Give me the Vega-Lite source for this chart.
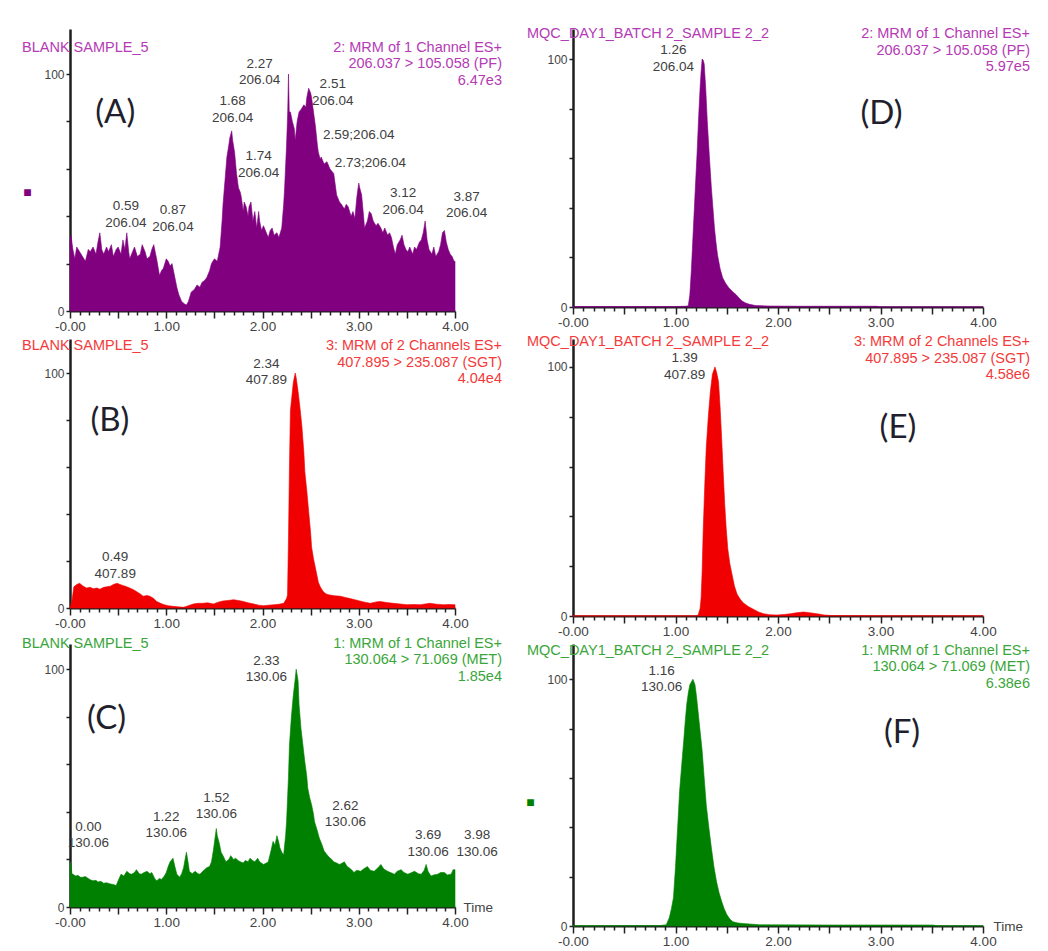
{
  "$schema": "https://vega.github.io/schema/vega-lite/v6.json",
  "background": "white",
  "padding": {"left": 22, "top": 26, "right": 5, "bottom": 5},
  "columns": 2,
  "spacing": {"row": 28, "column": 118},
  "bounds": "flush",
  "align": "each",
  "datasets": {
    "trace": [
      {"p":"A","t":0,"v":30},{"p":"A","t":0.01,"v":32},{"p":"A","t":0.03,"v":26},{"p":"A","t":0.05,"v":22},{"p":"A","t":0.07,"v":27},{"p":"A","t":0.1,"v":25},{"p":"A","t":0.13,"v":23},{"p":"A","t":0.16,"v":21},{"p":"A","t":0.19,"v":26},{"p":"A","t":0.21,"v":25},{"p":"A","t":0.24,"v":27},{"p":"A","t":0.27,"v":24},{"p":"A","t":0.29,"v":29},{"p":"A","t":0.31,"v":33},{"p":"A","t":0.33,"v":26},{"p":"A","t":0.35,"v":24},{"p":"A","t":0.38,"v":27},{"p":"A","t":0.4,"v":25},{"p":"A","t":0.43,"v":28},{"p":"A","t":0.45,"v":23},{"p":"A","t":0.48,"v":26},{"p":"A","t":0.5,"v":27},{"p":"A","t":0.53,"v":24},{"p":"A","t":0.55,"v":30},{"p":"A","t":0.57,"v":26},{"p":"A","t":0.59,"v":33},{"p":"A","t":0.61,"v":25},{"p":"A","t":0.62,"v":22},{"p":"A","t":0.65,"v":25},{"p":"A","t":0.67,"v":27},{"p":"A","t":0.7,"v":23},{"p":"A","t":0.73,"v":24},{"p":"A","t":0.75,"v":28},{"p":"A","t":0.78,"v":25},{"p":"A","t":0.8,"v":22},{"p":"A","t":0.83,"v":23},{"p":"A","t":0.85,"v":26},{"p":"A","t":0.87,"v":28},{"p":"A","t":0.89,"v":24},{"p":"A","t":0.9,"v":22},{"p":"A","t":0.93,"v":15},{"p":"A","t":0.95,"v":17},{"p":"A","t":0.97,"v":18},{"p":"A","t":1.0,"v":22},{"p":"A","t":1.02,"v":21},{"p":"A","t":1.04,"v":19},{"p":"A","t":1.06,"v":20},{"p":"A","t":1.09,"v":14},{"p":"A","t":1.11,"v":10},{"p":"A","t":1.13,"v":7},{"p":"A","t":1.16,"v":4},{"p":"A","t":1.19,"v":3},{"p":"A","t":1.21,"v":2.5},{"p":"A","t":1.23,"v":4},{"p":"A","t":1.26,"v":8},{"p":"A","t":1.29,"v":9},{"p":"A","t":1.32,"v":11},{"p":"A","t":1.35,"v":10},{"p":"A","t":1.37,"v":12},{"p":"A","t":1.4,"v":13},{"p":"A","t":1.42,"v":14},{"p":"A","t":1.45,"v":17},{"p":"A","t":1.47,"v":20},{"p":"A","t":1.5,"v":22},{"p":"A","t":1.53,"v":21},{"p":"A","t":1.56,"v":27},{"p":"A","t":1.58,"v":38},{"p":"A","t":1.59,"v":45},{"p":"A","t":1.61,"v":55},{"p":"A","t":1.63,"v":65},{"p":"A","t":1.65,"v":70},{"p":"A","t":1.66,"v":73},{"p":"A","t":1.68,"v":76},{"p":"A","t":1.69,"v":72},{"p":"A","t":1.71,"v":67},{"p":"A","t":1.73,"v":58},{"p":"A","t":1.75,"v":52},{"p":"A","t":1.77,"v":50},{"p":"A","t":1.78,"v":48},{"p":"A","t":1.8,"v":42},{"p":"A","t":1.81,"v":46},{"p":"A","t":1.83,"v":44},{"p":"A","t":1.85,"v":40},{"p":"A","t":1.86,"v":44},{"p":"A","t":1.88,"v":46},{"p":"A","t":1.9,"v":38},{"p":"A","t":1.92,"v":42},{"p":"A","t":1.94,"v":35},{"p":"A","t":1.96,"v":42},{"p":"A","t":1.97,"v":38},{"p":"A","t":1.99,"v":34},{"p":"A","t":2.01,"v":36},{"p":"A","t":2.04,"v":33},{"p":"A","t":2.06,"v":31},{"p":"A","t":2.08,"v":34},{"p":"A","t":2.1,"v":35},{"p":"A","t":2.12,"v":32},{"p":"A","t":2.15,"v":33},{"p":"A","t":2.17,"v":31},{"p":"A","t":2.2,"v":35},{"p":"A","t":2.22,"v":45},{"p":"A","t":2.23,"v":52},{"p":"A","t":2.25,"v":70},{"p":"A","t":2.262,"v":84},{"p":"A","t":2.27,"v":100},{"p":"A","t":2.278,"v":84},{"p":"A","t":2.29,"v":84},{"p":"A","t":2.31,"v":80},{"p":"A","t":2.33,"v":77},{"p":"A","t":2.34,"v":72},{"p":"A","t":2.36,"v":80},{"p":"A","t":2.38,"v":84},{"p":"A","t":2.4,"v":85},{"p":"A","t":2.43,"v":87},{"p":"A","t":2.45,"v":86},{"p":"A","t":2.46,"v":90},{"p":"A","t":2.48,"v":94},{"p":"A","t":2.5,"v":92},{"p":"A","t":2.51,"v":90},{"p":"A","t":2.53,"v":84},{"p":"A","t":2.55,"v":78},{"p":"A","t":2.57,"v":70},{"p":"A","t":2.58,"v":67},{"p":"A","t":2.6,"v":64},{"p":"A","t":2.61,"v":65},{"p":"A","t":2.64,"v":62},{"p":"A","t":2.67,"v":63},{"p":"A","t":2.7,"v":60},{"p":"A","t":2.72,"v":59},{"p":"A","t":2.74,"v":58},{"p":"A","t":2.76,"v":52},{"p":"A","t":2.77,"v":49},{"p":"A","t":2.8,"v":46},{"p":"A","t":2.82,"v":45},{"p":"A","t":2.85,"v":43},{"p":"A","t":2.87,"v":45},{"p":"A","t":2.89,"v":44},{"p":"A","t":2.92,"v":40},{"p":"A","t":2.94,"v":42},{"p":"A","t":2.96,"v":39},{"p":"A","t":2.98,"v":48},{"p":"A","t":3.0,"v":54},{"p":"A","t":3.01,"v":52},{"p":"A","t":3.03,"v":49},{"p":"A","t":3.05,"v":40},{"p":"A","t":3.06,"v":35},{"p":"A","t":3.09,"v":38},{"p":"A","t":3.11,"v":42},{"p":"A","t":3.13,"v":41},{"p":"A","t":3.15,"v":38},{"p":"A","t":3.18,"v":36},{"p":"A","t":3.2,"v":37},{"p":"A","t":3.23,"v":35},{"p":"A","t":3.25,"v":33},{"p":"A","t":3.27,"v":35},{"p":"A","t":3.3,"v":32},{"p":"A","t":3.32,"v":33},{"p":"A","t":3.34,"v":31},{"p":"A","t":3.36,"v":27},{"p":"A","t":3.38,"v":24},{"p":"A","t":3.4,"v":28},{"p":"A","t":3.43,"v":30},{"p":"A","t":3.45,"v":32},{"p":"A","t":3.47,"v":28},{"p":"A","t":3.49,"v":26},{"p":"A","t":3.51,"v":25},{"p":"A","t":3.53,"v":27},{"p":"A","t":3.56,"v":24},{"p":"A","t":3.58,"v":27},{"p":"A","t":3.6,"v":26},{"p":"A","t":3.63,"v":29},{"p":"A","t":3.65,"v":30},{"p":"A","t":3.67,"v":33},{"p":"A","t":3.69,"v":38},{"p":"A","t":3.71,"v":30},{"p":"A","t":3.73,"v":26},{"p":"A","t":3.76,"v":24},{"p":"A","t":3.78,"v":27},{"p":"A","t":3.8,"v":23},{"p":"A","t":3.83,"v":25},{"p":"A","t":3.85,"v":28},{"p":"A","t":3.87,"v":33},{"p":"A","t":3.89,"v":34},{"p":"A","t":3.91,"v":29},{"p":"A","t":3.93,"v":26},{"p":"A","t":3.95,"v":24},{"p":"A","t":3.97,"v":23},{"p":"A","t":3.99,"v":21},{"p":"A","t":4.0,"v":21},

      {"p":"B","t":0,"v":0},{"p":"B","t":0.02,"v":3},{"p":"B","t":0.04,"v":9},{"p":"B","t":0.07,"v":10},{"p":"B","t":0.1,"v":10.5},{"p":"B","t":0.13,"v":9.5},{"p":"B","t":0.17,"v":8.5},{"p":"B","t":0.21,"v":8.8},{"p":"B","t":0.24,"v":8.2},{"p":"B","t":0.28,"v":8.5},{"p":"B","t":0.31,"v":8},{"p":"B","t":0.35,"v":8.8},{"p":"B","t":0.38,"v":9},{"p":"B","t":0.42,"v":9.3},{"p":"B","t":0.45,"v":10},{"p":"B","t":0.49,"v":10.5},{"p":"B","t":0.52,"v":10},{"p":"B","t":0.55,"v":9.6},{"p":"B","t":0.59,"v":9},{"p":"B","t":0.62,"v":8.5},{"p":"B","t":0.66,"v":7.8},{"p":"B","t":0.69,"v":7},{"p":"B","t":0.73,"v":6},{"p":"B","t":0.76,"v":5},{"p":"B","t":0.8,"v":5.3},{"p":"B","t":0.83,"v":5},{"p":"B","t":0.87,"v":4},{"p":"B","t":0.9,"v":2.8},{"p":"B","t":0.94,"v":2},{"p":"B","t":0.97,"v":1.5},{"p":"B","t":1.02,"v":1},{"p":"B","t":1.07,"v":0.7},{"p":"B","t":1.12,"v":0.5},{"p":"B","t":1.18,"v":0.3},{"p":"B","t":1.23,"v":1},{"p":"B","t":1.28,"v":1.7},{"p":"B","t":1.33,"v":2},{"p":"B","t":1.38,"v":2},{"p":"B","t":1.43,"v":2.2},{"p":"B","t":1.49,"v":1.7},{"p":"B","t":1.54,"v":2.5},{"p":"B","t":1.59,"v":3},{"p":"B","t":1.64,"v":3.2},{"p":"B","t":1.7,"v":3.5},{"p":"B","t":1.75,"v":3.2},{"p":"B","t":1.8,"v":2.8},{"p":"B","t":1.85,"v":2.2},{"p":"B","t":1.91,"v":1.7},{"p":"B","t":1.96,"v":1.2},{"p":"B","t":2.01,"v":1},{"p":"B","t":2.06,"v":1.2},{"p":"B","t":2.12,"v":1.4},{"p":"B","t":2.17,"v":1.6},{"p":"B","t":2.22,"v":2},{"p":"B","t":2.25,"v":4},{"p":"B","t":2.26,"v":5.5},{"p":"B","t":2.27,"v":30},{"p":"B","t":2.28,"v":60},{"p":"B","t":2.29,"v":84},{"p":"B","t":2.31,"v":92},{"p":"B","t":2.32,"v":96},{"p":"B","t":2.34,"v":100},{"p":"B","t":2.35,"v":98},{"p":"B","t":2.37,"v":92},{"p":"B","t":2.39,"v":85},{"p":"B","t":2.41,"v":77},{"p":"B","t":2.43,"v":66},{"p":"B","t":2.44,"v":58},{"p":"B","t":2.46,"v":50},{"p":"B","t":2.48,"v":41},{"p":"B","t":2.5,"v":32},{"p":"B","t":2.51,"v":26},{"p":"B","t":2.53,"v":21},{"p":"B","t":2.55,"v":17},{"p":"B","t":2.58,"v":11},{"p":"B","t":2.6,"v":9},{"p":"B","t":2.63,"v":7},{"p":"B","t":2.66,"v":6},{"p":"B","t":2.7,"v":5.5},{"p":"B","t":2.75,"v":5.2},{"p":"B","t":2.81,"v":5},{"p":"B","t":2.86,"v":4.5},{"p":"B","t":2.91,"v":4},{"p":"B","t":2.96,"v":3.5},{"p":"B","t":3.01,"v":3},{"p":"B","t":3.06,"v":2.5},{"p":"B","t":3.12,"v":2},{"p":"B","t":3.17,"v":2.5},{"p":"B","t":3.22,"v":2.8},{"p":"B","t":3.29,"v":2.3},{"p":"B","t":3.36,"v":2},{"p":"B","t":3.43,"v":1.7},{"p":"B","t":3.5,"v":1.4},{"p":"B","t":3.57,"v":1.5},{"p":"B","t":3.64,"v":1.4},{"p":"B","t":3.69,"v":1.7},{"p":"B","t":3.74,"v":2},{"p":"B","t":3.81,"v":1.6},{"p":"B","t":3.88,"v":1.4},{"p":"B","t":3.94,"v":1.5},{"p":"B","t":4.0,"v":1.4},

      {"p":"C","t":0,"v":19},{"p":"C","t":0.01,"v":18},{"p":"C","t":0.02,"v":14},{"p":"C","t":0.03,"v":13.8},{"p":"C","t":0.06,"v":13},{"p":"C","t":0.08,"v":13.3},{"p":"C","t":0.11,"v":12.5},{"p":"C","t":0.13,"v":12.5},{"p":"C","t":0.16,"v":12.8},{"p":"C","t":0.19,"v":12},{"p":"C","t":0.21,"v":11.5},{"p":"C","t":0.24,"v":11},{"p":"C","t":0.27,"v":11.2},{"p":"C","t":0.29,"v":10.5},{"p":"C","t":0.32,"v":10.8},{"p":"C","t":0.35,"v":10},{"p":"C","t":0.38,"v":10.2},{"p":"C","t":0.42,"v":9.7},{"p":"C","t":0.45,"v":9.5},{"p":"C","t":0.48,"v":9},{"p":"C","t":0.5,"v":11},{"p":"C","t":0.53,"v":13.8},{"p":"C","t":0.56,"v":13},{"p":"C","t":0.59,"v":15},{"p":"C","t":0.62,"v":14},{"p":"C","t":0.64,"v":13.8},{"p":"C","t":0.67,"v":14.5},{"p":"C","t":0.69,"v":15.7},{"p":"C","t":0.72,"v":14},{"p":"C","t":0.74,"v":13.8},{"p":"C","t":0.77,"v":14.5},{"p":"C","t":0.8,"v":15},{"p":"C","t":0.83,"v":14},{"p":"C","t":0.85,"v":14.5},{"p":"C","t":0.88,"v":12},{"p":"C","t":0.9,"v":11},{"p":"C","t":0.93,"v":12},{"p":"C","t":0.95,"v":11.6},{"p":"C","t":0.98,"v":13},{"p":"C","t":1.0,"v":14.5},{"p":"C","t":1.02,"v":17},{"p":"C","t":1.04,"v":19},{"p":"C","t":1.07,"v":20.5},{"p":"C","t":1.09,"v":17},{"p":"C","t":1.11,"v":13.8},{"p":"C","t":1.14,"v":12.5},{"p":"C","t":1.16,"v":14},{"p":"C","t":1.18,"v":16.5},{"p":"C","t":1.2,"v":21},{"p":"C","t":1.21,"v":23},{"p":"C","t":1.23,"v":18},{"p":"C","t":1.24,"v":15},{"p":"C","t":1.27,"v":14},{"p":"C","t":1.3,"v":15},{"p":"C","t":1.33,"v":14},{"p":"C","t":1.35,"v":13.8},{"p":"C","t":1.38,"v":15},{"p":"C","t":1.42,"v":16.5},{"p":"C","t":1.45,"v":17},{"p":"C","t":1.47,"v":19},{"p":"C","t":1.49,"v":24},{"p":"C","t":1.5,"v":27},{"p":"C","t":1.52,"v":33},{"p":"C","t":1.53,"v":30},{"p":"C","t":1.55,"v":27},{"p":"C","t":1.57,"v":23},{"p":"C","t":1.59,"v":21.6},{"p":"C","t":1.62,"v":19},{"p":"C","t":1.65,"v":20},{"p":"C","t":1.67,"v":21.6},{"p":"C","t":1.7,"v":20},{"p":"C","t":1.72,"v":20.5},{"p":"C","t":1.75,"v":19.5},{"p":"C","t":1.77,"v":19},{"p":"C","t":1.8,"v":18.5},{"p":"C","t":1.82,"v":19.6},{"p":"C","t":1.85,"v":19},{"p":"C","t":1.87,"v":20.5},{"p":"C","t":1.9,"v":19.5},{"p":"C","t":1.92,"v":19},{"p":"C","t":1.95,"v":20.5},{"p":"C","t":1.97,"v":19},{"p":"C","t":2.01,"v":17.9},{"p":"C","t":2.04,"v":18.5},{"p":"C","t":2.06,"v":19},{"p":"C","t":2.09,"v":24},{"p":"C","t":2.11,"v":27.6},{"p":"C","t":2.13,"v":26},{"p":"C","t":2.15,"v":30},{"p":"C","t":2.17,"v":27},{"p":"C","t":2.18,"v":25},{"p":"C","t":2.2,"v":23},{"p":"C","t":2.22,"v":22},{"p":"C","t":2.24,"v":30},{"p":"C","t":2.25,"v":36},{"p":"C","t":2.27,"v":55},{"p":"C","t":2.28,"v":68},{"p":"C","t":2.3,"v":80},{"p":"C","t":2.32,"v":89},{"p":"C","t":2.34,"v":96},{"p":"C","t":2.35,"v":100},{"p":"C","t":2.37,"v":95},{"p":"C","t":2.38,"v":85},{"p":"C","t":2.4,"v":75},{"p":"C","t":2.42,"v":68},{"p":"C","t":2.44,"v":61},{"p":"C","t":2.46,"v":55},{"p":"C","t":2.47,"v":50},{"p":"C","t":2.49,"v":46},{"p":"C","t":2.51,"v":43},{"p":"C","t":2.53,"v":39},{"p":"C","t":2.54,"v":36},{"p":"C","t":2.57,"v":32},{"p":"C","t":2.59,"v":29},{"p":"C","t":2.62,"v":26},{"p":"C","t":2.64,"v":23.6},{"p":"C","t":2.67,"v":22},{"p":"C","t":2.69,"v":21},{"p":"C","t":2.72,"v":20},{"p":"C","t":2.74,"v":19},{"p":"C","t":2.77,"v":18.5},{"p":"C","t":2.8,"v":17.9},{"p":"C","t":2.83,"v":18.5},{"p":"C","t":2.85,"v":19},{"p":"C","t":2.88,"v":17},{"p":"C","t":2.9,"v":16.5},{"p":"C","t":2.93,"v":15.5},{"p":"C","t":2.95,"v":14.5},{"p":"C","t":2.98,"v":15.5},{"p":"C","t":3.02,"v":15},{"p":"C","t":3.05,"v":16},{"p":"C","t":3.09,"v":17},{"p":"C","t":3.12,"v":15.5},{"p":"C","t":3.16,"v":15},{"p":"C","t":3.2,"v":16.5},{"p":"C","t":3.23,"v":17.9},{"p":"C","t":3.26,"v":16},{"p":"C","t":3.3,"v":15},{"p":"C","t":3.33,"v":14.5},{"p":"C","t":3.37,"v":13.8},{"p":"C","t":3.4,"v":15},{"p":"C","t":3.44,"v":15.7},{"p":"C","t":3.47,"v":14.5},{"p":"C","t":3.51,"v":13.8},{"p":"C","t":3.55,"v":14.5},{"p":"C","t":3.58,"v":15},{"p":"C","t":3.62,"v":14},{"p":"C","t":3.65,"v":13.8},{"p":"C","t":3.68,"v":15.5},{"p":"C","t":3.7,"v":17.9},{"p":"C","t":3.72,"v":15},{"p":"C","t":3.75,"v":13},{"p":"C","t":3.78,"v":13.5},{"p":"C","t":3.82,"v":13.8},{"p":"C","t":3.85,"v":14.5},{"p":"C","t":3.89,"v":14.5},{"p":"C","t":3.92,"v":13.5},{"p":"C","t":3.96,"v":13.8},{"p":"C","t":3.98,"v":15.7},{"p":"C","t":4.0,"v":15.7},

      {"p":"D","t":0,"v":0.2},{"p":"D","t":0.5,"v":0.2},{"p":"D","t":1.0,"v":0.2},{"p":"D","t":1.1,"v":0.3},{"p":"D","t":1.125,"v":0.5},{"p":"D","t":1.14,"v":5},{"p":"D","t":1.155,"v":15},{"p":"D","t":1.17,"v":28},{"p":"D","t":1.19,"v":45},{"p":"D","t":1.21,"v":61.6},{"p":"D","t":1.225,"v":76},{"p":"D","t":1.24,"v":88.4},{"p":"D","t":1.25,"v":95},{"p":"D","t":1.26,"v":100},{"p":"D","t":1.27,"v":99.5},{"p":"D","t":1.28,"v":98},{"p":"D","t":1.295,"v":88},{"p":"D","t":1.31,"v":75},{"p":"D","t":1.33,"v":61},{"p":"D","t":1.35,"v":48},{"p":"D","t":1.365,"v":40},{"p":"D","t":1.38,"v":32},{"p":"D","t":1.395,"v":26},{"p":"D","t":1.41,"v":21},{"p":"D","t":1.435,"v":15.5},{"p":"D","t":1.46,"v":11.8},{"p":"D","t":1.49,"v":9.5},{"p":"D","t":1.52,"v":7.8},{"p":"D","t":1.555,"v":6.3},{"p":"D","t":1.59,"v":5},{"p":"D","t":1.62,"v":3.6},{"p":"D","t":1.65,"v":2.4},{"p":"D","t":1.685,"v":1.6},{"p":"D","t":1.72,"v":1.1},{"p":"D","t":1.78,"v":0.6},{"p":"D","t":1.9,"v":0.4},{"p":"D","t":2.2,"v":0.3},{"p":"D","t":2.6,"v":0.3},{"p":"D","t":2.96,"v":0.3},{"p":"D","t":3.0,"v":0.1},{"p":"D","t":4.0,"v":0.1},

      {"p":"E","t":0,"v":0.1},{"p":"E","t":1.2,"v":0.1},{"p":"E","t":1.22,"v":0.3},{"p":"E","t":1.24,"v":3},{"p":"E","t":1.25,"v":7.4},{"p":"E","t":1.26,"v":18},{"p":"E","t":1.27,"v":34},{"p":"E","t":1.285,"v":52},{"p":"E","t":1.3,"v":67.6},{"p":"E","t":1.32,"v":80},{"p":"E","t":1.34,"v":90},{"p":"E","t":1.36,"v":97},{"p":"E","t":1.385,"v":100},{"p":"E","t":1.4,"v":98},{"p":"E","t":1.42,"v":94},{"p":"E","t":1.435,"v":84},{"p":"E","t":1.45,"v":71.6},{"p":"E","t":1.465,"v":58},{"p":"E","t":1.48,"v":45},{"p":"E","t":1.495,"v":35},{"p":"E","t":1.51,"v":27},{"p":"E","t":1.53,"v":21},{"p":"E","t":1.55,"v":17},{"p":"E","t":1.575,"v":12},{"p":"E","t":1.6,"v":8.8},{"p":"E","t":1.63,"v":6.8},{"p":"E","t":1.66,"v":5.3},{"p":"E","t":1.71,"v":3.8},{"p":"E","t":1.76,"v":2.7},{"p":"E","t":1.81,"v":1.6},{"p":"E","t":1.86,"v":0.9},{"p":"E","t":1.92,"v":0.5},{"p":"E","t":1.99,"v":0.4},{"p":"E","t":2.06,"v":0.6},{"p":"E","t":2.12,"v":0.9},{"p":"E","t":2.18,"v":1.3},{"p":"E","t":2.25,"v":1.6},{"p":"E","t":2.31,"v":1.3},{"p":"E","t":2.38,"v":0.9},{"p":"E","t":2.45,"v":0.4},{"p":"E","t":2.52,"v":0.2},{"p":"E","t":3.0,"v":0.1},{"p":"E","t":4.0,"v":0.1},

      {"p":"F","t":0,"v":0.1},{"p":"F","t":0.85,"v":0.2},{"p":"F","t":0.91,"v":0.5},{"p":"F","t":0.94,"v":3.4},{"p":"F","t":0.96,"v":7},{"p":"F","t":0.98,"v":11.5},{"p":"F","t":1.0,"v":24},{"p":"F","t":1.01,"v":31.7},{"p":"F","t":1.025,"v":43},{"p":"F","t":1.04,"v":54.7},{"p":"F","t":1.06,"v":65},{"p":"F","t":1.08,"v":75},{"p":"F","t":1.095,"v":83},{"p":"F","t":1.11,"v":90},{"p":"F","t":1.125,"v":94.5},{"p":"F","t":1.14,"v":97.8},{"p":"F","t":1.17,"v":100},{"p":"F","t":1.19,"v":97.8},{"p":"F","t":1.205,"v":93},{"p":"F","t":1.22,"v":87},{"p":"F","t":1.24,"v":79},{"p":"F","t":1.26,"v":71},{"p":"F","t":1.28,"v":60},{"p":"F","t":1.3,"v":49},{"p":"F","t":1.325,"v":40},{"p":"F","t":1.35,"v":31.7},{"p":"F","t":1.375,"v":24},{"p":"F","t":1.4,"v":18},{"p":"F","t":1.425,"v":13.5},{"p":"F","t":1.45,"v":10},{"p":"F","t":1.475,"v":7},{"p":"F","t":1.5,"v":4.7},{"p":"F","t":1.53,"v":2.8},{"p":"F","t":1.56,"v":1.7},{"p":"F","t":1.61,"v":1.2},{"p":"F","t":1.66,"v":1.0},{"p":"F","t":1.82,"v":0.5},{"p":"F","t":2.5,"v":0.4},{"p":"F","t":3.0,"v":0.4},{"p":"F","t":3.51,"v":0.4},{"p":"F","t":3.55,"v":0.1},{"p":"F","t":4.0,"v":0.1}
    ],
    "peaks": [
      {"p":"A","t":0.58,"v":34.3,"label":"0.59\n206.04"},
      {"p":"A","t":1.07,"v":32.6,"label":"0.87\n206.04"},
      {"p":"A","t":1.69,"v":78.5,"label":"1.68\n206.04"},
      {"p":"A","t":1.96,"v":55.3,"label":"1.74\n206.04"},
      {"p":"A","t":1.97,"v":94.5,"label":"2.27\n206.04"},
      {"p":"A","t":2.73,"v":85.7,"label":"2.51\n206.04"},
      {"p":"A","t":3.0,"v":64.3,"label":"2.59;206.04"},
      {"p":"A","t":3.12,"v":52.6,"label":"2.73;206.04"},
      {"p":"A","t":3.46,"v":39.7,"label":"3.12\n206.04"},
      {"p":"A","t":4.12,"v":38.4,"label":"3.87\n206.04"},
      {"p":"B","t":2.04,"v":94,"label":"2.34\n407.89"},
      {"p":"B","t":0.47,"v":11.5,"label":"0.49\n407.89"},
      {"p":"C","t":2.04,"v":93.7,"label":"2.33\n130.06"},
      {"p":"C","t":0.19,"v":23.8,"label":"0.00\n130.06"},
      {"p":"C","t":1.0,"v":28,"label":"1.22\n130.06"},
      {"p":"C","t":1.52,"v":36,"label":"1.52\n130.06"},
      {"p":"C","t":2.86,"v":32.7,"label":"2.62\n130.06"},
      {"p":"C","t":3.72,"v":20.3,"label":"3.69\n130.06"},
      {"p":"C","t":4.23,"v":20.3,"label":"3.98\n130.06"},
      {"p":"D","t":0.98,"v":94,"label":"1.26\n206.04"},
      {"p":"E","t":1.09,"v":94,"label":"1.39\n407.89"},
      {"p":"F","t":0.865,"v":94,"label":"1.16\n130.06"}
    ],
    "info": [
      {"p":"A","sample":"BLANK SAMPLE_5","channel":"2: MRM of 1 Channel ES+\n206.037 > 105.058 (PF)\n6.47e3","tag":"(A)"},
      {"p":"B","sample":"BLANK SAMPLE_5","channel":"3: MRM of 2 Channels ES+\n407.895 > 235.087 (SGT)\n4.04e4","tag":"(B)"},
      {"p":"C","sample":"BLANK SAMPLE_5","channel":"1: MRM of 1 Channel ES+\n130.064 > 71.069 (MET)\n1.85e4","tag":"(C)"},
      {"p":"D","sample":"MQC_DAY1_BATCH 2_SAMPLE 2_2","channel":"2: MRM of 1 Channel ES+\n206.037 > 105.058 (PF)\n5.97e5","tag":"(D)"},
      {"p":"E","sample":"MQC_DAY1_BATCH 2_SAMPLE 2_2","channel":"3: MRM of 2 Channels ES+\n407.895 > 235.087 (SGT)\n4.58e6","tag":"(E)"},
      {"p":"F","sample":"MQC_DAY1_BATCH 2_SAMPLE 2_2","channel":"1: MRM of 1 Channel ES+\n130.064 > 71.069 (MET)\n6.38e6","tag":"(F)"}
    ]
  },
  "concat": [
    {
      "width": 385, "height": 282,
      "layer": [
        {"data": {"name": "trace"}, "transform": [{"filter": "datum.p == 'A'"}],
         "mark": {"type": "area", "color": "#800080", "stroke": "#800080", "strokeWidth": 0.6},
         "encoding": {
           "x": {"field": "t", "type": "quantitative", "scale": {"domain": [0, 4], "nice": false},
                 "axis": {"tickCount": 40, "title": null, "labelExpr": "abs(datum.value - round(datum.value)) < 0.001 ? (datum.value < 0.001 ? '-0.00' : format(datum.value, '.2f')) : ''", "tickSize": {"condition": {"test": "abs(datum.value*2 - round(datum.value*2)) < 0.001", "value": 7}, "value": 4}}},
           "y": {"field": "v", "type": "quantitative", "scale": {"domain": [0, 119], "nice": false},
                 "axis": {"values": [0,10,20,30,40,50,60,70,80,90,100], "labelExpr": "datum.value > 99 ? '100' : (datum.value > 49 && datum.value < 51) ? '%' : datum.value < 1 ? '0' : ''",
                          "title": "■", "titleColor": "#800080", "titleFontSize": 14, "titleAngle": 0, "titleX": -43, "titleY": 163, "titleAlign": "center", "titleBaseline": "middle"}}
         }},
        {"data": {"name": "peaks"}, "transform": [{"filter": "datum.p == 'A'"}],
         "mark": {"type": "text", "baseline": "bottom", "dy": -16.5, "color": "#404040", "fontSize": 13.5},
         "encoding": {"x": {"field": "t", "type": "quantitative"}, "y": {"field": "v", "type": "quantitative"}, "text": {"field": "label"}}},
        {"data": {"name": "info"}, "transform": [{"filter": "datum.p == 'A'"}],
         "mark": {"type": "text", "align": "left", "baseline": "middle", "dx": -48, "color": "#b53ab5", "fontSize": 14.5},
         "encoding": {"x": {"datum": 0}, "y": {"datum": 111}, "text": {"field": "sample"}}},
        {"data": {"name": "info"}, "transform": [{"filter": "datum.p == 'A'"}],
         "mark": {"type": "text", "align": "right", "baseline": "middle", "dx": 47, "color": "#b53ab5", "fontSize": 14.5},
         "encoding": {"x": {"datum": 4}, "y": {"datum": 111}, "text": {"field": "channel"}}},
        {"data": {"name": "info"}, "transform": [{"filter": "datum.p == 'A'"}],
         "mark": {"type": "text", "align": "center", "baseline": "middle", "font": "Lato", "fontSize": 33, "color": "#1f1f2e"},
         "encoding": {"x": {"datum": 0.47}, "y": {"datum": 83.7}, "text": {"field": "tag"}}}
      ]
    },
    {
      "width": 410, "height": 278,
      "layer": [
        {"data": {"name": "trace"}, "transform": [{"filter": "datum.p == 'D'"}],
         "mark": {"type": "area", "color": "#800080", "stroke": "#800080", "strokeWidth": 0.6},
         "encoding": {
           "x": {"field": "t", "type": "quantitative", "scale": {"domain": [0, 4], "nice": false},
                 "axis": {"tickCount": 40, "title": null, "labelExpr": "abs(datum.value - round(datum.value)) < 0.001 ? (datum.value < 0.001 ? '-0.00' : format(datum.value, '.2f')) : ''", "tickSize": {"condition": {"test": "abs(datum.value*2 - round(datum.value*2)) < 0.001", "value": 7}, "value": 4}}},
           "y": {"field": "v", "type": "quantitative", "scale": {"domain": [0, 112.1], "nice": false},
                 "axis": {"values": [0,10,20,30,40,50,60,70,80,90,100], "labelExpr": "datum.value > 99 ? '100' : (datum.value > 49 && datum.value < 51) ? '%' : datum.value < 1 ? '0' : ''", "title": null}}
         }},
        {"data": {"name": "peaks"}, "transform": [{"filter": "datum.p == 'D'"}],
         "mark": {"type": "text", "baseline": "bottom", "dy": -16.5, "color": "#404040", "fontSize": 13.5},
         "encoding": {"x": {"field": "t", "type": "quantitative"}, "y": {"field": "v", "type": "quantitative"}, "text": {"field": "label"}}},
        {"data": {"name": "info"}, "transform": [{"filter": "datum.p == 'D'"}],
         "mark": {"type": "text", "align": "left", "baseline": "middle", "dx": -46, "color": "#b53ab5", "fontSize": 14.5},
         "encoding": {"x": {"datum": 0}, "y": {"datum": 110}, "text": {"field": "sample"}}},
        {"data": {"name": "info"}, "transform": [{"filter": "datum.p == 'D'"}],
         "mark": {"type": "text", "align": "right", "baseline": "middle", "dx": 47, "color": "#b53ab5", "fontSize": 14.5},
         "encoding": {"x": {"datum": 4}, "y": {"datum": 110}, "text": {"field": "channel"}}},
        {"data": {"name": "info"}, "transform": [{"filter": "datum.p == 'D'"}],
         "mark": {"type": "text", "align": "center", "baseline": "middle", "font": "Lato", "fontSize": 33, "color": "#1f1f2e"},
         "encoding": {"x": {"datum": 3.01}, "y": {"datum": 78}, "text": {"field": "tag"}}}
      ]
    },
    {
      "width": 385, "height": 269,
      "layer": [
        {"data": {"name": "trace"}, "transform": [{"filter": "datum.p == 'B'"}],
         "mark": {"type": "area", "color": "#f00000", "stroke": "#f00000", "strokeWidth": 0.6},
         "encoding": {
           "x": {"field": "t", "type": "quantitative", "scale": {"domain": [0, 4], "nice": false},
                 "axis": {"tickCount": 40, "title": null, "labelExpr": "abs(datum.value - round(datum.value)) < 0.001 ? (datum.value < 0.001 ? '-0.00' : format(datum.value, '.2f')) : ''", "tickSize": {"condition": {"test": "abs(datum.value*2 - round(datum.value*2)) < 0.001", "value": 7}, "value": 4}}},
           "y": {"field": "v", "type": "quantitative", "scale": {"domain": [0, 114.5], "nice": false},
                 "axis": {"values": [0,10,20,30,40,50,60,70,80,90,100], "labelExpr": "datum.value > 99 ? '100' : (datum.value > 49 && datum.value < 51) ? '%' : datum.value < 1 ? '0' : ''", "title": null}}
         }},
        {"data": {"name": "peaks"}, "transform": [{"filter": "datum.p == 'B'"}],
         "mark": {"type": "text", "baseline": "bottom", "dy": -16.5, "color": "#404040", "fontSize": 13.5},
         "encoding": {"x": {"field": "t", "type": "quantitative"}, "y": {"field": "v", "type": "quantitative"}, "text": {"field": "label"}}},
        {"data": {"name": "info"}, "transform": [{"filter": "datum.p == 'B'"}],
         "mark": {"type": "text", "align": "left", "baseline": "middle", "dx": -48, "color": "#f43a3a", "fontSize": 14.5},
         "encoding": {"x": {"datum": 0}, "y": {"datum": 111.5}, "text": {"field": "sample"}}},
        {"data": {"name": "info"}, "transform": [{"filter": "datum.p == 'B'"}],
         "mark": {"type": "text", "align": "right", "baseline": "middle", "dx": 47, "color": "#f43a3a", "fontSize": 14.5},
         "encoding": {"x": {"datum": 4}, "y": {"datum": 111.5}, "text": {"field": "channel"}}},
        {"data": {"name": "info"}, "transform": [{"filter": "datum.p == 'B'"}],
         "mark": {"type": "text", "align": "center", "baseline": "middle", "font": "Lato", "fontSize": 33, "color": "#1f1f2e"},
         "encoding": {"x": {"datum": 0.415}, "y": {"datum": 79.6}, "text": {"field": "tag"}}}
      ]
    },
    {
      "width": 410, "height": 277,
      "layer": [
        {"data": {"name": "trace"}, "transform": [{"filter": "datum.p == 'E'"}],
         "mark": {"type": "area", "color": "#f00000", "stroke": "#f00000", "strokeWidth": 0.6},
         "encoding": {
           "x": {"field": "t", "type": "quantitative", "scale": {"domain": [0, 4], "nice": false},
                 "axis": {"tickCount": 40, "title": null, "labelExpr": "abs(datum.value - round(datum.value)) < 0.001 ? (datum.value < 0.001 ? '-0.00' : format(datum.value, '.2f')) : ''", "tickSize": {"condition": {"test": "abs(datum.value*2 - round(datum.value*2)) < 0.001", "value": 7}, "value": 4}}},
           "y": {"field": "v", "type": "quantitative", "scale": {"domain": [0, 111.2], "nice": false},
                 "axis": {"values": [0,10,20,30,40,50,60,70,80,90,100], "labelExpr": "datum.value > 99 ? '100' : (datum.value > 49 && datum.value < 51) ? '%' : datum.value < 1 ? '0' : ''", "title": null}}
         }},
        {"data": {"name": "peaks"}, "transform": [{"filter": "datum.p == 'E'"}],
         "mark": {"type": "text", "baseline": "bottom", "dy": -16.5, "color": "#404040", "fontSize": 13.5},
         "encoding": {"x": {"field": "t", "type": "quantitative"}, "y": {"field": "v", "type": "quantitative"}, "text": {"field": "label"}}},
        {"data": {"name": "info"}, "transform": [{"filter": "datum.p == 'E'"}],
         "mark": {"type": "text", "align": "left", "baseline": "middle", "dx": -46, "color": "#f43a3a", "fontSize": 14.5},
         "encoding": {"x": {"datum": 0}, "y": {"datum": 109.8}, "text": {"field": "sample"}}},
        {"data": {"name": "info"}, "transform": [{"filter": "datum.p == 'E'"}],
         "mark": {"type": "text", "align": "right", "baseline": "middle", "dx": 47, "color": "#f43a3a", "fontSize": 14.5},
         "encoding": {"x": {"datum": 4}, "y": {"datum": 109.8}, "text": {"field": "channel"}}},
        {"data": {"name": "info"}, "transform": [{"filter": "datum.p == 'E'"}],
         "mark": {"type": "text", "align": "center", "baseline": "middle", "font": "Lato", "fontSize": 33, "color": "#1f1f2e"},
         "encoding": {"x": {"datum": 3.17}, "y": {"datum": 75.6}, "text": {"field": "tag"}}}
      ]
    },
    {
      "width": 385, "height": 263,
      "layer": [
        {"data": {"name": "trace"}, "transform": [{"filter": "datum.p == 'C'"}],
         "mark": {"type": "area", "color": "#008000", "stroke": "#008000", "strokeWidth": 0.6},
         "encoding": {
           "x": {"field": "t", "type": "quantitative", "scale": {"domain": [0, 4], "nice": false},
                 "axis": {"tickCount": 40, "title": "Time", "titleX": 393, "titleY": 0, "titleAlign": "left", "titleBaseline": "middle", "titleFontSize": 13.5, "titleColor": "#444", "labelExpr": "abs(datum.value - round(datum.value)) < 0.001 ? (datum.value < 0.001 ? '-0.00' : format(datum.value, '.2f')) : ''", "tickSize": {"condition": {"test": "abs(datum.value*2 - round(datum.value*2)) < 0.001", "value": 7}, "value": 4}}},
           "y": {"field": "v", "type": "quantitative", "scale": {"domain": [0, 110.6], "nice": false},
                 "axis": {"values": [0,10,20,30,40,50,60,70,80,90,100], "labelExpr": "datum.value > 99 ? '100' : (datum.value > 49 && datum.value < 51) ? '%' : datum.value < 1 ? '0' : ''", "title": null}}
         }},
        {"data": {"name": "peaks"}, "transform": [{"filter": "datum.p == 'C'"}],
         "mark": {"type": "text", "baseline": "bottom", "dy": -16.5, "color": "#404040", "fontSize": 13.5},
         "encoding": {"x": {"field": "t", "type": "quantitative"}, "y": {"field": "v", "type": "quantitative"}, "text": {"field": "label"}}},
        {"data": {"name": "info"}, "transform": [{"filter": "datum.p == 'C'"}],
         "mark": {"type": "text", "align": "left", "baseline": "middle", "dx": -48, "color": "#3aa63a", "fontSize": 14.5},
         "encoding": {"x": {"datum": 0}, "y": {"datum": 110.8}, "text": {"field": "sample"}}},
        {"data": {"name": "info"}, "transform": [{"filter": "datum.p == 'C'"}],
         "mark": {"type": "text", "align": "right", "baseline": "middle", "dx": 47, "color": "#3aa63a", "fontSize": 14.5},
         "encoding": {"x": {"datum": 4}, "y": {"datum": 110.8}, "text": {"field": "channel"}}},
        {"data": {"name": "info"}, "transform": [{"filter": "datum.p == 'C'"}],
         "mark": {"type": "text", "align": "center", "baseline": "middle", "font": "Lato", "fontSize": 33, "color": "#1f1f2e"},
         "encoding": {"x": {"datum": 0.38}, "y": {"datum": 79}, "text": {"field": "tag"}}}
      ]
    },
    {
      "width": 410, "height": 282,
      "layer": [
        {"data": {"name": "trace"}, "transform": [{"filter": "datum.p == 'F'"}],
         "mark": {"type": "area", "color": "#008000", "stroke": "#008000", "strokeWidth": 0.6},
         "encoding": {
           "x": {"field": "t", "type": "quantitative", "scale": {"domain": [0, 4], "nice": false},
                 "axis": {"tickCount": 40, "title": "Time", "titleX": 420, "titleY": 0, "titleAlign": "left", "titleBaseline": "middle", "titleFontSize": 13.5, "titleColor": "#444", "labelExpr": "abs(datum.value - round(datum.value)) < 0.001 ? (datum.value < 0.001 ? '-0.00' : format(datum.value, '.2f')) : ''", "tickSize": {"condition": {"test": "abs(datum.value*2 - round(datum.value*2)) < 0.001", "value": 7}, "value": 4}}},
           "y": {"field": "v", "type": "quantitative", "scale": {"domain": [0, 114.3], "nice": false},
                 "axis": {"values": [0,10,20,30,40,50,60,70,80,90,100], "labelExpr": "datum.value > 99 ? '100' : (datum.value > 49 && datum.value < 51) ? '%' : datum.value < 1 ? '0' : ''",
                          "title": "■", "titleColor": "#008000", "titleFontSize": 14, "titleAngle": 0, "titleX": -43, "titleY": 158, "titleAlign": "center", "titleBaseline": "middle"}}
         }},
        {"data": {"name": "peaks"}, "transform": [{"filter": "datum.p == 'F'"}],
         "mark": {"type": "text", "baseline": "bottom", "dy": -16.5, "color": "#404040", "fontSize": 13.5},
         "encoding": {"x": {"field": "t", "type": "quantitative"}, "y": {"field": "v", "type": "quantitative"}, "text": {"field": "label"}}},
        {"data": {"name": "info"}, "transform": [{"filter": "datum.p == 'F'"}],
         "mark": {"type": "text", "align": "left", "baseline": "middle", "dx": -46, "color": "#3aa63a", "fontSize": 14.5},
         "encoding": {"x": {"datum": 0}, "y": {"datum": 111.5}, "text": {"field": "sample"}}},
        {"data": {"name": "info"}, "transform": [{"filter": "datum.p == 'F'"}],
         "mark": {"type": "text", "align": "right", "baseline": "middle", "dx": 47, "color": "#3aa63a", "fontSize": 14.5},
         "encoding": {"x": {"datum": 4}, "y": {"datum": 111.5}, "text": {"field": "channel"}}},
        {"data": {"name": "info"}, "transform": [{"filter": "datum.p == 'F'"}],
         "mark": {"type": "text", "align": "center", "baseline": "middle", "font": "Lato", "fontSize": 33, "color": "#1f1f2e"},
         "encoding": {"x": {"datum": 3.21}, "y": {"datum": 78.4}, "text": {"field": "tag"}}}
      ]
    }
  ],
  "config": {
    "font": "Liberation Sans",
    "view": {"stroke": null},
    "text": {"lineBreak": "\n", "lineHeight": 16.5, "font": "Liberation Sans"},
    "axis": {"grid": false, "ticks": true, "domainColor": "#1e1e1e", "domainWidth": 2, "tickColor": "#222222", "tickWidth": 1.5, "labelColor": "#444444", "labelFont": "Liberation Sans", "titleFont": "Liberation Sans", "titleFontWeight": "normal", "labelOverlap": false, "labelBound": false, "labelFlush": false, "zindex": 1},
    "axisX": {"labelFontSize": 13.5, "labelPadding": 1},
    "axisY": {"labelFontSize": 12, "labelPadding": 2, "tickSize": 4, "domainWidth": 2.5}
  }
}
